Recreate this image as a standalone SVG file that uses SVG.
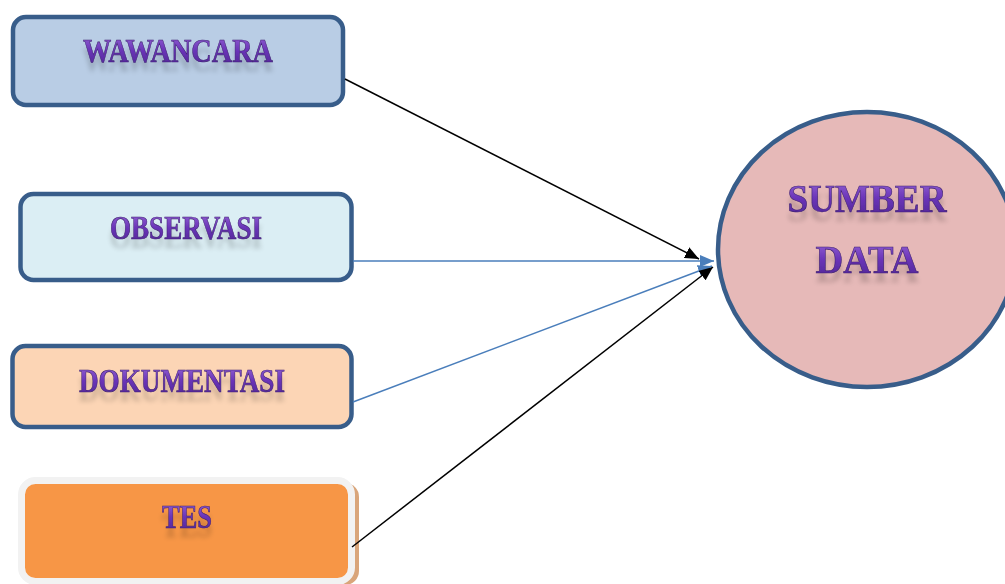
<svg xmlns="http://www.w3.org/2000/svg" width="1005" height="584" viewBox="0 0 1005 584">
<style>
.box{stroke:#385d8a;stroke-width:4.5}
.lbl{font-family:"Liberation Serif",serif;font-weight:bold;fill:url(#tg);stroke:#3c1f6e;stroke-width:0.6;text-anchor:middle;filter:url(#refl)}
.cb{stroke:#000;stroke-width:1.5;fill:none}
.cu{stroke:#4a7ebb;stroke-width:1.5;fill:none}
</style>
<defs>
<linearGradient id="tg" x1="0" y1="0" x2="0" y2="1">
<stop offset="0" stop-color="#9a6ad8"/>
<stop offset="0.5" stop-color="#6a34b8"/>
<stop offset="1" stop-color="#4d2590"/>
</linearGradient>
<filter id="refl" x="-10%" y="-20%" width="120%" height="180%">
<feGaussianBlur in="SourceAlpha" stdDeviation="2.5"/>
<feOffset dy="9"/>
<feComponentTransfer><feFuncA type="linear" slope="0.18"/></feComponentTransfer>
<feMerge><feMergeNode/><feMergeNode in="SourceGraphic"/></feMerge>
</filter>
<marker id="ab" viewBox="0 0 14 12" refX="14" refY="6" markerWidth="14" markerHeight="12" markerUnits="userSpaceOnUse" orient="auto">
<path d="M0,0 L14,6 L0,12 z" fill="#000"/>
</marker>
<marker id="au" viewBox="0 0 14 12" refX="14" refY="6" markerWidth="14" markerHeight="12" markerUnits="userSpaceOnUse" orient="auto">
<path d="M0,0 L14,6 L0,12 z" fill="#4a7ebb"/>
</marker>
</defs>
<rect width="1005" height="584" fill="#fff"/>
<g id="wawancara">
<rect class="box" x="13" y="17" width="330" height="88" rx="13" fill="#b9cde5"/>
<text class="lbl" x="178" y="62" font-size="34" textLength="190" lengthAdjust="spacingAndGlyphs">WAWANCARA</text>
</g>
<g id="observasi">
<rect class="box" x="20.5" y="194" width="331" height="86" rx="13" fill="#dbeef4"/>
<text class="lbl" x="186" y="239" font-size="33" textLength="152" lengthAdjust="spacingAndGlyphs">OBSERVASI</text>
</g>
<g id="dokumentasi">
<rect class="box" x="12.5" y="346" width="339" height="81" rx="13" fill="#fcd5b5"/>
<text class="lbl" x="182" y="392" font-size="33" textLength="206" lengthAdjust="spacingAndGlyphs">DOKUMENTASI</text>
</g>
<g id="tes">
<rect x="24" y="483" width="335" height="102" rx="14" fill="#d9a57a"/>
<rect x="21.5" y="480.5" width="330" height="101" rx="14" fill="#f79646" stroke="#f2f2f2" stroke-width="7"/>
<text class="lbl" x="187" y="528" font-size="33" textLength="50" lengthAdjust="spacingAndGlyphs">TES</text>
</g>
<g id="sumber-data">
<ellipse cx="867" cy="249.5" rx="149" ry="137.5" fill="#e6b9b8" stroke="#385d8a" stroke-width="4.5"/>
<text class="lbl" x="867" y="212" font-size="39" textLength="159" lengthAdjust="spacingAndGlyphs">SUMBER</text>
<text class="lbl" x="867" y="273" font-size="39" textLength="103" lengthAdjust="spacingAndGlyphs">DATA</text>
</g>
<g id="connectors">
<line class="cu" x1="353" y1="261" x2="714" y2="261" marker-end="url(#au)"/>
<line class="cu" x1="353" y1="402" x2="712" y2="266" marker-end="url(#au)"/>
<line class="cb" x1="345" y1="79" x2="699" y2="259" marker-end="url(#ab)"/>
<line class="cb" x1="352" y1="547" x2="713" y2="267" marker-end="url(#ab)"/>
</g>
</svg>
